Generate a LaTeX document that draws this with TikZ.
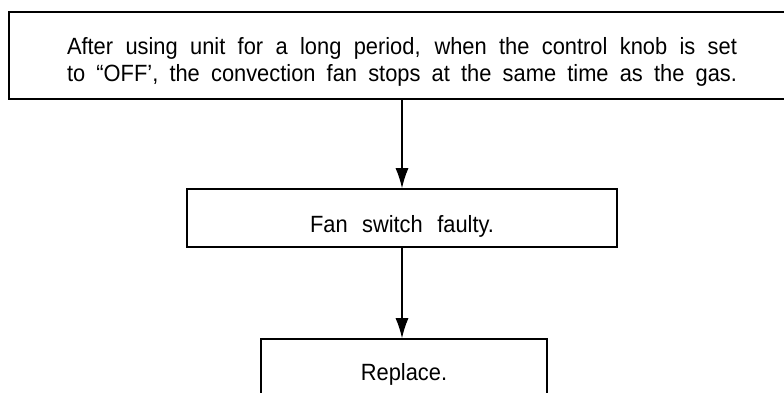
\documentclass[tikz,border=0pt]{standalone}
\usepackage{fontspec}
\setmainfont{Liberation Sans}[FakeStretch=0.93]
\usetikzlibrary{arrows.meta}
\tikzset{
  box/.style={draw, line width=1.6pt, inner sep=0pt, font=\fontsize{23.5}{27}\selectfont},
  flow/.style={->, line width=1.2pt}
}
\newcommand{\fullline}[1]{\hbox to 670pt{\spaceskip=6pt plus 1fil\xspaceskip=6pt plus 1fil #1}}
\begin{document}
\begin{tikzpicture}[x=1pt,y=-1pt,>={Latex[length=20pt,width=13pt]}]
\useasboundingbox (0,0) rectangle (784,393);
\clip (0,0) rectangle (784,393);
\node[box, minimum width=786pt, text width=670pt, text height=42.5pt, text depth=44.5pt] (symptom) at (402,55.5)
  {\fullline{After using unit for a long period, when the control knob is set}\par
   \fullline{to “OFF’, the convection fan stops at the same time as the gas.}};
\node[box, minimum width=430pt, text height=43pt, text depth=15pt] (fanswitch) at (402,218)
  {\makebox[184pt][s]{Fan switch faulty.}};
\node[box, minimum width=286pt, text height=41pt, text depth=24pt] (replace) at (404,371.5) {Replace.};
\draw[flow] (symptom.south) -- (fanswitch.north);
\draw[flow] (fanswitch.south) -- (fanswitch.south |- replace.north);
\end{tikzpicture}
\end{document}
